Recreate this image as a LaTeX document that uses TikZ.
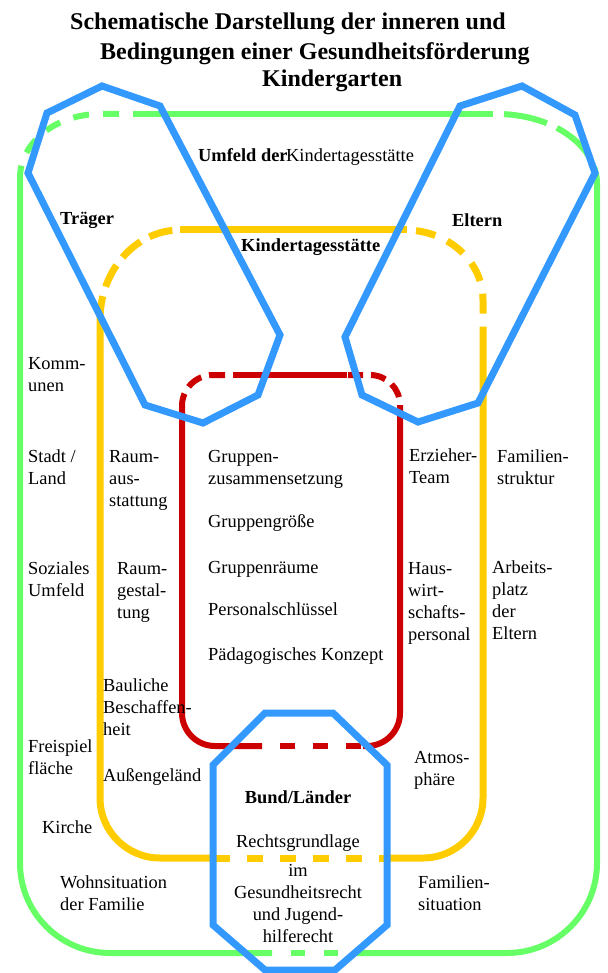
\documentclass[tikz,border=0pt]{standalone}
\usepackage{fontspec}
\setmainfont{Liberation Serif}
\definecolor{gr}{HTML}{66FF66}
\definecolor{ye}{HTML}{FFCC00}
\definecolor{rd}{HTML}{CC0000}
\definecolor{bl}{HTML}{3399FF}
\tikzset{
  gline/.style={draw=gr, line width=6pt},
  yline/.style={draw=ye, line width=7pt},
  rline/.style={draw=rd, line width=6pt},
  bline/.style={draw=bl, line width=7pt, line join=miter},
  txt/.style={inner sep=0pt, anchor=base west, font=\fontsize{18.4}{22}\selectfont},
  btxt/.style={txt, font=\fontsize{18.4}{22}\selectfont\bfseries},
  ttl/.style={inner sep=0pt, anchor=base west, font=\fontsize{24}{28}\selectfont\bfseries},
}
\newcommand\txtlines[5]{%
  \foreach \tl [count=\ti] in {#5} {
    \node[txt,#4] (#1\ti) at (#2,{-(#3)-(\ti-1)*22}) {\tl};
  }}
\begin{document}
\begin{tikzpicture}[x=1pt,y=1pt]
\useasboundingbox (0,0) rectangle (607,-973);
% ---------- green: Umfeld ----------
\draw[gline] (133,-114) -- (493,-114);
\draw[gline, dash pattern=on 16pt off 14pt, dash phase=16pt] (133,-114) -- (100,-114) arc[start angle=90,end angle=180,x radius=80,y radius=64];
\draw[gline] (20,-178) -- (20,-863) arc[start angle=180,end angle=270,radius=90] -- (272,-953);
\draw[gline, dash pattern=on 14pt off 19pt, dash phase=14pt] (272,-953) -- (357,-953);
\draw[gline] (357,-953) -- (507,-953) arc[start angle=270,end angle=360,radius=90] -- (597,-184);
\draw[gline, dash pattern=on 44pt off 11pt, dash phase=44pt] (493,-114) -- (497,-114) arc[start angle=90,end angle=0,x radius=100,y radius=70];
% ---------- yellow: Kindertagesstaette ----------
\draw[yline] (180,-230) -- (407,-230);
\draw[yline, dash pattern=on 20pt off 13pt, dash phase=20pt] (407,-230) -- (405,-230) arc[start angle=90,end angle=0,x radius=78,y radius=70] -- (483,-335);
\draw[yline] (483,-335) -- (483,-798) arc[start angle=0,end angle=-90,radius=60] -- (385,-858);
\draw[yline, dash pattern=on 16pt off 17pt] (214,-858) -- (385,-858);
\draw[yline] (211,-858) -- (160,-858) arc[start angle=270,end angle=180,radius=60] -- (100,-320);
\draw[yline, dash pattern=on 24pt off 10pt] (100,-320) arc[start angle=180,end angle=90,x radius=80,y radius=90];
% ---------- red: Gruppe ----------
\draw[rline] (233,-375) -- (347,-375);
\draw[rline, dash pattern=on 16pt off 8pt, dash phase=16pt] (233,-375) -- (213,-375) arc[start angle=90,end angle=180,radius=31];
\draw[rline] (182,-406) -- (182,-713) arc[start angle=180,end angle=270,radius=33] -- (262,-746);
\draw[rline, dash pattern=on 15pt off 18pt, dash phase=15pt] (262,-746) -- (363,-746);
\draw[rline] (363,-746) -- (367,-746) arc[start angle=270,end angle=360,radius=33] -- (400,-420);
\draw[rline, dash pattern=on 15pt off 8pt] (400,-420) -- (400,-405) arc[start angle=0,end angle=90,radius=30] -- (347,-375);
% ---------- blue: Traeger, Eltern, Bund ----------
\draw[bline] (47,-113) -- (102,-86) -- (160,-106) -- (280,-335) -- (258,-395) -- (203,-423) -- (145,-405) -- (28,-173) -- cycle;
\draw[bline] (460,-106) -- (522,-86) -- (575,-115) -- (595,-173) -- (478,-403) -- (418,-422) -- (362,-395) -- (345,-337) -- cycle;
\draw[bline] (265,-713) -- (333,-713) -- (387,-765) -- (387,-925) -- (335,-970) -- (265,-970) -- (213,-925) -- (213,-765) -- cycle;
% ---------- title ----------
\node[ttl] (t1) at (70,-30) {Schematische Darstellung der inneren und};
\node[ttl] (t2) at (100,-60) {Bedingungen einer Gesundheitsförderung};
\node[ttl] (t3) at (262,-87) {Kindergarten};
% ---------- bold labels ----------
\node[btxt] (traeger) at (60,-225) {Träger};
\node[btxt] (eltern) at (452,-227) {Eltern};
\node[btxt] (umfeld) at (198,-162) {Umfeld der};
\node[txt] (umfeldb) at (286,-162) {Kindertagesstätte};
\node[btxt] (kita) at (241,-252) {Kindertagesstätte};
\node[btxt, anchor=base] (bund) at (298,-803) {Bund/Länder};
% ---------- outer ring texts ----------
\txtlines{komm}{28}{369}{}{Komm-,unen}
\txtlines{stadt}{28}{462}{}{Stadt /,Land}
\txtlines{sozial}{28}{574}{}{Soziales,Umfeld}
\txtlines{frei}{28}{752}{}{Freispiel,fläche}
\txtlines{kirche}{42}{833}{}{Kirche}
\txtlines{wohn}{60}{888}{}{Wohnsituation,der Familie}
\txtlines{famstr}{497}{462}{}{Familien-,struktur}
\txtlines{arb}{492}{573}{}{Arbeits-,platz,der,Eltern}
\txtlines{famsit}{418}{888}{}{Familien-,situation}
% ---------- middle ring texts ----------
\txtlines{raumA}{109}{462}{}{Raum-,aus-,stattung}
\txtlines{raumB}{117}{574}{}{Raum-,gestal-,tung}
\txtlines{baul}{103}{691}{}{Bauliche,Beschaffen-,heit}
\txtlines{aussen}{103}{781}{}{Außengeländ}
\txtlines{erz}{409}{461}{}{Erzieher-,Team}
\txtlines{haus}{408}{574}{}{Haus-,wirt-,schafts-,personal}
\txtlines{atm}{414}{763}{}{Atmos-,phäre}
% ---------- inner texts ----------
\txtlines{grp}{208}{462}{}{Gruppen-,zusammensetzung}
\txtlines{gg}{208}{527}{}{Gruppengröße}
\txtlines{gr}{208}{573}{}{Gruppenräume}
\txtlines{ps}{208}{615}{}{Personalschlüssel}
\txtlines{pk}{208}{660}{}{Pädagogisches Konzept}
% ---------- Bund texts ----------
\txtlines{recht}{298}{847}{anchor=base}{Rechtsgrundlage}
\txtlines{im}{298}{876}{anchor=base}{im,Gesundheitsrecht,und Jugend-,hilferecht}
\end{tikzpicture}
\end{document}
